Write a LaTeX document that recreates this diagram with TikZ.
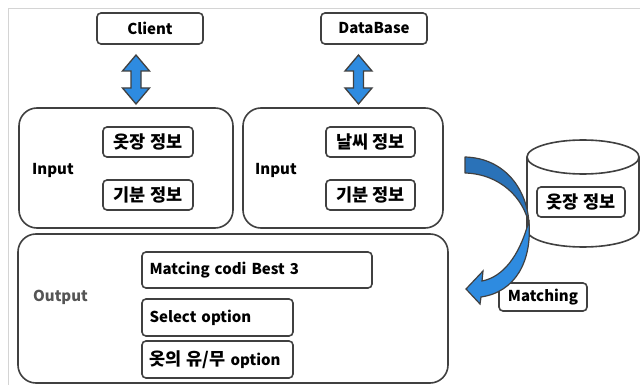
\documentclass[tikz,border=0pt]{standalone}
\usepackage{fontspec}
\setmainfont{Noto Sans CJK KR}
\usetikzlibrary{calc,shapes.geometric}
\definecolor{edge}{HTML}{404040}
\definecolor{frameg}{HTML}{D4D4D4}
\definecolor{blueA}{HTML}{2E8BE0}
\definecolor{blueB}{HTML}{2A72B8}
\definecolor{outg}{HTML}{555555}
\newcommand\ko[1]{{\fontsize{17.5}{17.5}\selectfont #1}}
\tikzset{
  bigbox/.style={draw=edge,line width=1.6pt,rounded corners=18pt,fill=white},
  smallbox/.style={draw=edge,line width=1.6pt,rounded corners=4pt,fill=white,inner sep=0pt,font=\bfseries\fontsize{15}{15}\selectfont},
  lbl/.style={inner sep=0pt,anchor=west,font=\bfseries\fontsize{15}{15}\selectfont},
  arrowfill/.style={draw=edge,line width=1.3pt,fill=blueA,line join=miter},
}
\begin{document}
\begin{tikzpicture}[x=1pt,y=-1pt]
\useasboundingbox (0,0) rectangle (640,385);
\fill[white] (0,0) rectangle (640,385);
\draw[frameg,line width=1pt] (8,385) -- (8,9) -- (640,9);
% top boxes
\node[smallbox,minimum width=106pt,minimum height=31pt] (client) at (150,28.5) {Client};
\node[smallbox,minimum width=106pt,minimum height=31pt] (db) at (374,28.5) {DataBase};
% input boxes
\node[bigbox,minimum width=214pt,minimum height=120pt] (in1) at (126,168) {};
\node[bigbox,minimum width=200pt,minimum height=120pt] (in2) at (343,168) {};
\node[lbl] (inl1) at (32,170) {Input};
\node[lbl] (inl2) at (255,170) {Input};
\node[smallbox,minimum width=90pt,minimum height=30pt] (w1) at (148,142) {\ko{옷장 정보}};
\node[smallbox,minimum width=90pt,minimum height=30pt] (m1) at (148,195) {\ko{기분 정보}};
\node[smallbox,minimum width=89pt,minimum height=30pt] (we2) at (370.5,142) {\ko{날씨 정보}};
\node[smallbox,minimum width=89pt,minimum height=30pt] (m2) at (370.5,195) {\ko{기분 정보}};
% output box
\node[bigbox,minimum width=430pt,minimum height=149pt] (out) at (233,308.5) {};
\node[lbl,text=outg] (outl) at (33,297) {Output};
\node[smallbox,minimum width=230pt,minimum height=36pt,text width=215pt,align=left] (best) at (257,270) {Matcing codi Best 3};
\node[smallbox,minimum width=151pt,minimum height=37pt,text width=136pt,align=left] (sel) at (217.5,317.5) {Select option};
\node[smallbox,minimum width=151pt,minimum height=37pt,text width=136pt,align=left] (opt) at (217.5,359.5) {\ko{옷의 유/무} option};
% cylinder
\draw[draw=edge,line width=1.6pt,fill=white] (527,157) -- (527,230) arc[start angle=180,end angle=360,x radius=56pt,y radius=17pt] -- (639,157);
\draw[draw=edge,line width=1.6pt,fill=white] (583,157) ellipse[x radius=56pt,y radius=17pt];
\node[smallbox,minimum width=88pt,minimum height=30pt] (wr) at (581,202) {\ko{옷장 정보}};
\node[smallbox,minimum width=88pt,minimum height=28pt] (match) at (543,297) {Matching};
% double arrows
\coordinate (a1) at ($(client.south)!0.5!(in1.north)+(-2,3.5)$);
\coordinate (a2) at ($(db.south)!0.5!(in2.north)+(0,3.5)$);
\foreach \c in {a1,a2}{
\draw[arrowfill] (\c) ++(0,-24.5) -- ++(13.5,16) -- ++(-8.5,0) -- ++(0,17) -- ++(8.5,0) -- ++(-13.5,16) -- ++(-13.5,-16) -- ++(8.5,0) -- ++(0,-17) -- ++(-8.5,0) -- cycle;
}
% curved arrow
\draw[draw=edge,line width=1.2pt,fill=blueB,line join=round] (465,157) .. controls (505,158) and (528,190) .. (529,225) .. controls (524,198) and (500,174) .. (465,173) -- cycle;
\draw[draw=edge,line width=1.2pt,fill=blueA,line join=miter] (529,222) .. controls (532,262) and (515,292) .. (481,297) -- (480,304) -- (466,289) -- (483,271) -- (482,281) .. controls (503,277) and (519,256) .. (528,224) -- cycle;
\end{tikzpicture}
\end{document}
